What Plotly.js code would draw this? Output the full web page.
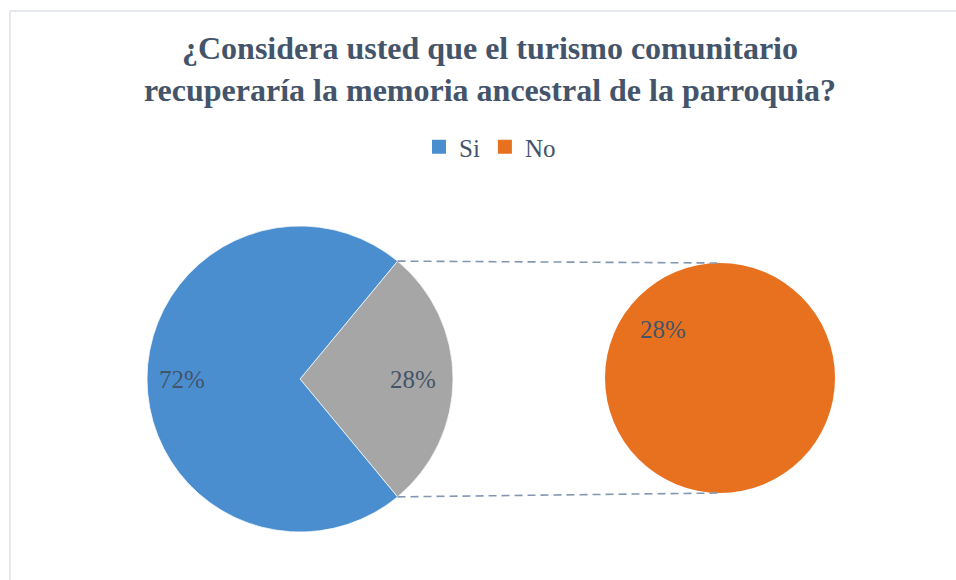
<!DOCTYPE html>
<html>
<head>
<meta charset="utf-8">
<script src="https://cdn.plot.ly/plotly-3.0.1.min.js"></script>
<style>html,body{margin:0;padding:0;background:#fff;}#chart{width:956px;height:580px;}</style>
</head>
<body>
<div id="chart"></div>
<script>
// ---- data ----
const categories = ["Si", "No"];
const values = [72, 28];
const splitLabel = "Otros";
const titleLines = ["¿Considera usted que el turismo comunitario", "recuperaría la memoria ancestral de la parroquia?"];

// ---- styling / layout constants ----
const W = 956, H = 580;
const colors = { Si: "#4a8ecf", No: "#e8711f", split: "#a6a6a6" };
const textColor = "#44546a";
const serifFamily = "Liberation Serif";
const main = { cx: 300, cy: 379, r: 153 };
const sec = { cx: 720, cy: 378, r: 115 };
const labelFracSi = 0.77, labelFracSplit = 0.74;
const secLabel = { angle: -50, frac: 0.65 };

const px = x => x / W;
const py = y => 1 - y / H;
const total = values.reduce((a, b) => a + b, 0);
const pct = v => Math.round(100 * v / total) + "%";
const shareNo = values[1] / total;
const halfDeg = 180 * shareNo;
const domainOf = c => ({ x: [px(c.cx - c.r), px(c.cx + c.r)], y: [py(c.cy + c.r), py(c.cy - c.r)] });

const traces = [
  {
    type: "pie", labels: [splitLabel, categories[0]], values: [values[1], values[0]],
    marker: { colors: [colors.split, colors.Si], line: { color: "rgba(255,255,255,0.7)", width: 1 } },
    sort: false, direction: "clockwise", rotation: 90 - halfDeg,
    textinfo: "none", showlegend: false, domain: domainOf(main), hoverinfo: "label+percent"
  },
  {
    type: "pie", labels: [categories[1]], values: [values[1]],
    marker: { colors: [colors.No], line: { width: 0 } },
    sort: false, textinfo: "none", showlegend: false, domain: domainOf(sec), hoverinfo: "label"
  },
  // legend entries
  { type: "scatter", mode: "markers", x: [null], y: [null], name: categories[0],
    marker: { symbol: "square", size: 14, color: colors.Si } },
  { type: "scatter", mode: "markers", x: [null], y: [null], name: categories[1],
    marker: { symbol: "square", size: 14, color: colors.No } }
];

// label positions from slice mid-angles (clockwise from 12 o'clock)
function polar(c, angDeg, frac) {
  const a = angDeg * Math.PI / 180;
  return { x: c.cx + c.r * frac * Math.sin(a), y: c.cy - c.r * frac * Math.cos(a) };
}
const pSplit = polar(main, 90, labelFracSplit);
const pSi = polar(main, 90 + halfDeg + 180 * (values[0] / total), labelFracSi);
const pSec = polar(sec, secLabel.angle, secLabel.frac);
const labelFont = { family: serifFamily, size: 25, color: textColor };
const annotations = [
  { x: px(pSi.x), y: py(pSi.y), text: pct(values[0]) },
  { x: px(pSplit.x), y: py(pSplit.y), text: pct(values[1]) },
  { x: px(pSec.x), y: py(pSec.y), text: pct(values[1]) }
].map(a => Object.assign(a, { xref: "paper", yref: "paper", showarrow: false, font: labelFont, xanchor: "center", yanchor: "middle" }));

// connector lines
const topPt = polar(main, 90 - halfDeg, 1);
const botPt = polar(main, 90 + halfDeg, 1);
const dashLine = { color: "#8497b0", width: 1.6, dash: "8px,5px" };
const shapes = [
  { type: "line", xref: "paper", yref: "paper", x0: px(topPt.x), y0: py(topPt.y), x1: px(sec.cx), y1: py(sec.cy - sec.r), line: dashLine },
  { type: "line", xref: "paper", yref: "paper", x0: px(botPt.x), y0: py(botPt.y), x1: px(sec.cx), y1: py(sec.cy + sec.r), line: dashLine },
  // chart-area border
  { type: "line", xref: "paper", yref: "paper", x0: px(10), y0: py(11), x1: 1.1, y1: py(11), line: { color: "#dde1e6", width: 1.5 } },
  { type: "line", xref: "paper", yref: "paper", x0: px(10), y0: py(11), x1: px(10), y1: -0.1, line: { color: "#dde1e6", width: 1.5 } }
];

const layout = {
  width: W, height: H,
  margin: { l: 0, r: 0, t: 0, b: 0 },
  paper_bgcolor: "#ffffff", plot_bgcolor: "#ffffff",
  font: { family: serifFamily },
  title: {
    text: "<b>" + titleLines.join("<br>") + "</b>",
    font: { family: serifFamily, size: 32, color: textColor },
    x: px(490), xanchor: "center", y: py(59), yanchor: "middle", xref: "paper", yref: "paper"
  },
  showlegend: true,
  legend: {
    orientation: "h", x: px(490), xanchor: "center", y: py(147), yanchor: "middle",
    font: { family: serifFamily, size: 25, color: textColor }, itemwidth: 30, tracegroupgap: 0
  },
  xaxis: { visible: false, range: [0, 1] },
  yaxis: { visible: false, range: [0, 1] },
  annotations: annotations,
  shapes: shapes
};

Plotly.newPlot("chart", traces, layout, { displayModeBar: false });
</script>
</body>
</html>
